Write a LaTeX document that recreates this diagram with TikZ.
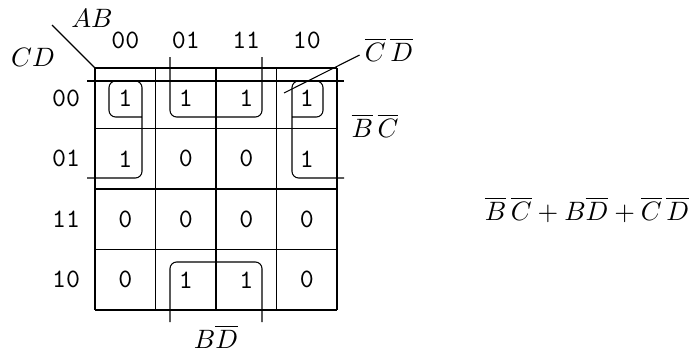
\documentclass[tikz,border=0pt]{standalone}
\usetikzlibrary{calc}
\begin{document}
\begin{tikzpicture}[x=0.3762pt,y=-0.3762pt,
  digit/.style={font=\ttfamily,inner sep=1pt},
  grouploop/.style={rounded corners=2.5pt},
  gridline/.style={line width=0.4pt}]
\useasboundingbox (0,0) rectangle (689,352);
% grid
\foreach \i in {0,...,4} {
  \draw[gridline] (95+60.5*\i,68) -- (95+60.5*\i,310);
  \draw[gridline] (95,68+60.5*\i) -- (337,68+60.5*\i);
}
% corner diagonal
\coordinate (diagA) at (52,25);
\coordinate (diagB) at (95,68);
\draw (diagA) -- (diagB);
\node (ab) at (92,18) {$AB$};
\node (cd) at (33,57) {$CD$};
% column and row labels
\foreach \t [count=\k from 0] in {00,01,11,10} {
  \node[digit] (col\t) at (125.25+60.5*\k,40) {\t};
  \node[digit] (row\t) at (66,98.25+60.5*\k) {\t};
}
% cell values
\foreach \r/\vals [count=\j from 0] in {0/{1,1,1,1},1/{1,0,0,1},2/{0,0,0,0},3/{0,1,1,0}} {
  \foreach \v [count=\k from 0] in \vals {
    \node[digit] (v\j\k) at (125.25+60.5*\k,98.25+60.5*\j) {\v};
  }
}
% groupings
\draw (87,81) -- (344,81);
\draw[grouploop] (142,117) -- (109,117) -- (109,81) -- (142,81) -- (142,178) -- (87,178);
\draw[grouploop] (292,117) -- (323,117) -- (323,81) -- (292,81) -- (292,178) -- (344,178);
\draw[grouploop] (170,57) -- (170,117) -- (262,117) -- (262,57);
\draw[grouploop] (170,322) -- (170,262) -- (262,262) -- (262,322);
% group labels
\node (cdl) at (389,50) {$\overline{C}\,\overline{D}$};
\coordinate (cdtip) at (284,93);
\draw (cdtip) -- ($(cdl.west)+(4,5)$);
\node (bcl) at (375,126) {$\overline{B}\,\overline{C}$};
\node (bdl) at (216,336.5) {$B\overline{D}$};
% expression
\node (expr) at (587,210) {$\overline{B}\,\overline{C}+B\overline{D}+\overline{C}\,\overline{D}$};
\end{tikzpicture}
\end{document}
